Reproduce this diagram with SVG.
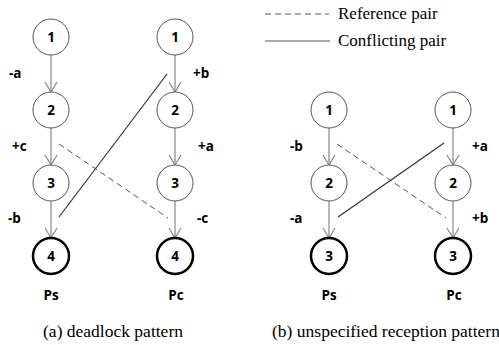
<svg xmlns="http://www.w3.org/2000/svg" width="499" height="345" viewBox="0 0 499 345">
<style>
.n{fill:#fff;stroke:#555;stroke-width:1}
.f{fill:#fff;stroke:#000;stroke-width:2.5}
.t{font-family:"Open Sans","Liberation Sans",sans-serif;font-weight:bold;font-size:13.5px;fill:#000;text-anchor:middle;dominant-baseline:central}
.l{font-family:"Open Sans","Liberation Sans",sans-serif;font-weight:bold;font-size:13.5px;fill:#000}
.e{stroke:#888;stroke-width:1.2;fill:none;marker-end:url(#arr)}
</style>
<defs>
<marker id="arr" markerWidth="14" markerHeight="14" refX="12" refY="7" orient="auto" markerUnits="userSpaceOnUse">
<path d="M2,1 L12,7 L2,13" fill="none" stroke="#888" stroke-width="1.2"/>
</marker>
</defs>
<g id="legend" font-family="Liberation Serif" font-size="17">
<line x1="265" y1="14" x2="329" y2="14" stroke="#555" stroke-width="1" stroke-dasharray="6,4"/>
<text x="338" y="19">Reference pair</text>
<line x1="265" y1="41" x2="330" y2="41" stroke="#555" stroke-width="1.2"/>
<text x="338" y="46">Conflicting pair</text>
</g>
<g id="connectors">
<line class="e" x1="51" y1="55" x2="51" y2="92"/>
<line class="e" x1="51" y1="128" x2="51" y2="165"/>
<line class="e" x1="51" y1="201" x2="51" y2="238"/>
<line class="e" x1="175" y1="55" x2="175" y2="92"/>
<line class="e" x1="175" y1="128" x2="175" y2="165"/>
<line class="e" x1="175" y1="201" x2="175" y2="238"/>
<line class="e" x1="329" y1="128" x2="329" y2="165"/>
<line class="e" x1="329" y1="201" x2="329" y2="238"/>
<line class="e" x1="453" y1="128" x2="453" y2="165"/>
<line class="e" x1="453" y1="201" x2="453" y2="238"/>
<line x1="167" y1="74" x2="59" y2="217" stroke="#333" stroke-width="1.2"/>
<line x1="59" y1="144" x2="168" y2="218" stroke="#555" stroke-width="1" stroke-dasharray="6,4"/>
<line x1="444" y1="143" x2="338" y2="217" stroke="#333" stroke-width="1.2"/>
<line x1="337" y1="144" x2="446" y2="218" stroke="#555" stroke-width="1" stroke-dasharray="6,4"/>
</g>
<g id="a-ps-1"><circle class="n" cx="51" cy="37" r="18"/><text class="t" x="51" y="37">1</text></g>
<g id="a-ps-2"><circle class="n" cx="51" cy="110" r="18"/><text class="t" x="51" y="110">2</text></g>
<g id="a-ps-3"><circle class="n" cx="51" cy="183" r="18"/><text class="t" x="51" y="183">3</text></g>
<g id="a-ps-4"><circle class="f" cx="51" cy="256" r="18"/><text class="t" x="51" y="256">4</text></g>
<g id="a-pc-1"><circle class="n" cx="175" cy="37" r="18"/><text class="t" x="175" y="37">1</text></g>
<g id="a-pc-2"><circle class="n" cx="175" cy="110" r="18"/><text class="t" x="175" y="110">2</text></g>
<g id="a-pc-3"><circle class="n" cx="175" cy="183" r="18"/><text class="t" x="175" y="183">3</text></g>
<g id="a-pc-4"><circle class="f" cx="175" cy="256" r="18"/><text class="t" x="175" y="256">4</text></g>
<g id="b-ps-1"><circle class="n" cx="329" cy="110" r="18"/><text class="t" x="329" y="110">1</text></g>
<g id="b-ps-2"><circle class="n" cx="329" cy="183" r="18"/><text class="t" x="329" y="183">2</text></g>
<g id="b-ps-3"><circle class="f" cx="329" cy="256" r="18"/><text class="t" x="329" y="256">3</text></g>
<g id="b-pc-1"><circle class="n" cx="453" cy="110" r="18"/><text class="t" x="453" y="110">1</text></g>
<g id="b-pc-2"><circle class="n" cx="453" cy="183" r="18"/><text class="t" x="453" y="183">2</text></g>
<g id="b-pc-3"><circle class="f" cx="453" cy="256" r="18"/><text class="t" x="453" y="256">3</text></g>
<g id="labels">
<text class="l" x="9" y="78">-a</text>
<text class="l" x="193" y="78">+b</text>
<text class="l" x="12" y="151">+c</text>
<text class="l" x="198" y="151">+a</text>
<text class="l" x="8" y="223">-b</text>
<text class="l" x="197" y="223">-c</text>
<text class="l" x="290" y="151">-b</text>
<text class="l" x="472" y="151">+a</text>
<text class="l" x="290" y="223">-a</text>
<text class="l" x="472" y="223">+b</text>
<text class="t" x="51" y="295" font-size="14.5">Ps</text>
<text class="t" x="176" y="295" font-size="14.5">Pc</text>
<text class="t" x="329" y="295" font-size="14.5">Ps</text>
<text class="t" x="454" y="295" font-size="14.5">Pc</text>
</g>
<g id="captions" font-family="Liberation Serif" font-size="17.5" text-anchor="middle">
<text x="113" y="337">(a) deadlock pattern</text>
<text x="386" y="337">(b) unspecified reception pattern</text>
</g>
</svg>
